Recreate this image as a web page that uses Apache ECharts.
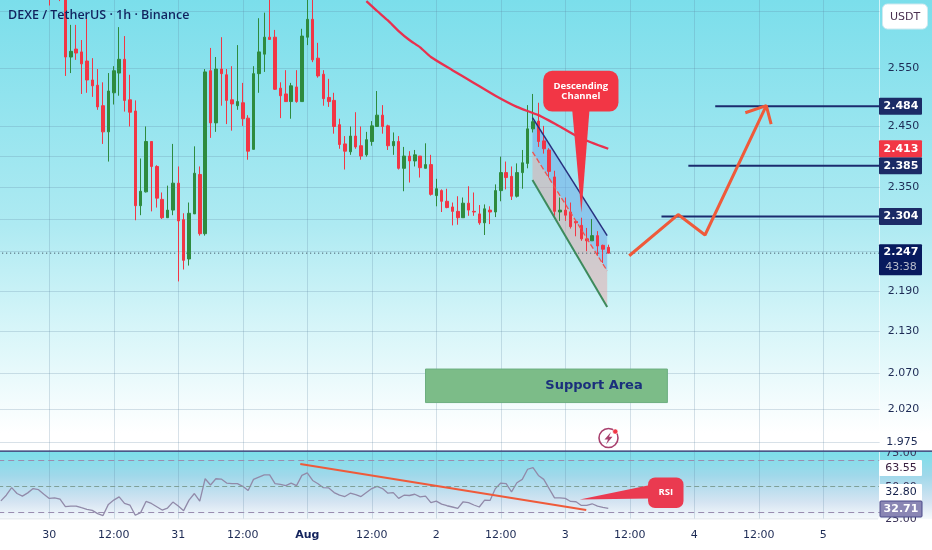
<!DOCTYPE html>
<html><head><meta charset="utf-8">
<style>html,body{margin:0;padding:0;background:#fff}#c{width:932px;height:550px}</style>
<script src="https://cdn.jsdelivr.net/npm/echarts@6/dist/echarts.min.js"></script>
</head><body><div id="c"></div>
<script>
const firstCandleSlot = 9;
const opens = [2.72,2.73,2.70,2.72,2.569,2.583,2.578,2.562,2.529,2.520,2.485,2.441,2.507,2.541,2.565,2.495,2.476,2.321,2.343,2.425,2.384,2.331,2.302,2.314,2.357,2.299,2.238,2.308,2.371,2.277,2.545,2.456,2.548,2.538,2.495,2.485,2.490,2.464,2.412,2.540,2.574,2.604,2.604,2.515,2.505,2.492,2.517,2.492,2.604,2.636,2.567,2.539,2.499,2.494,2.453,2.421,2.408,2.434,2.418,2.403,2.425,2.450,2.469,2.451,2.418,2.425,2.381,2.401,2.393,2.401,2.381,2.387,2.337,2.345,2.328,2.319,2.312,2.302,2.325,2.312,2.308,2.294,2.314,2.311,2.345,2.374,2.368,2.336,2.374,2.389,2.446,2.459,2.426,2.411,2.367,2.311,2.314,2.311,2.296,2.290,2.269,2.266,2.274,2.259,2.256];
const closes = [2.70,2.71,2.68,2.569,2.579,2.576,2.557,2.529,2.519,2.483,2.441,2.510,2.545,2.565,2.494,2.474,2.321,2.344,2.425,2.384,2.333,2.302,2.314,2.357,2.297,2.236,2.309,2.373,2.277,2.543,2.456,2.548,2.540,2.494,2.488,2.492,2.463,2.409,2.540,2.578,2.604,2.600,2.513,2.502,2.492,2.519,2.492,2.606,2.636,2.564,2.536,2.497,2.492,2.450,2.420,2.409,2.434,2.416,2.401,2.428,2.451,2.469,2.450,2.418,2.425,2.381,2.401,2.393,2.403,2.382,2.387,2.339,2.348,2.328,2.318,2.312,2.302,2.325,2.314,2.311,2.294,2.316,2.311,2.345,2.374,2.366,2.336,2.374,2.390,2.446,2.458,2.425,2.413,2.376,2.312,2.314,2.306,2.288,2.294,2.269,2.266,2.274,2.258,2.253,2.247];
const highs = [2.73,2.74,2.71,2.75,2.626,2.626,2.599,2.638,2.567,2.548,2.525,2.541,2.553,2.622,2.606,2.538,2.494,2.397,2.450,2.425,2.386,2.342,2.353,2.421,2.384,2.309,2.326,2.417,2.384,2.548,2.585,2.569,2.604,2.548,2.553,2.590,2.524,2.469,2.553,2.638,2.648,2.70,2.617,2.525,2.546,2.524,2.546,2.619,2.68,2.69,2.594,2.546,2.531,2.507,2.463,2.434,2.450,2.474,2.450,2.441,2.459,2.510,2.486,2.453,2.440,2.434,2.416,2.409,2.411,2.401,2.422,2.403,2.364,2.347,2.348,2.326,2.336,2.334,2.352,2.342,2.322,2.323,2.320,2.355,2.400,2.392,2.384,2.389,2.411,2.486,2.505,2.490,2.451,2.414,2.377,2.334,2.334,2.326,2.296,2.302,2.286,2.300,2.281,2.260,2.260];
const lows = [2.661,2.70,2.669,2.536,2.541,2.564,2.505,2.507,2.500,2.478,2.421,2.392,2.487,2.502,2.475,2.450,2.298,2.306,2.342,2.312,2.318,2.300,2.302,2.306,2.204,2.222,2.228,2.308,2.274,2.274,2.431,2.441,2.485,2.454,2.443,2.478,2.451,2.395,2.412,2.507,2.543,2.600,2.512,2.464,2.492,2.463,2.490,2.492,2.590,2.560,2.533,2.485,2.483,2.438,2.413,2.379,2.403,2.413,2.395,2.400,2.418,2.450,2.438,2.411,2.403,2.379,2.344,2.358,2.384,2.366,2.381,2.337,2.320,2.311,2.317,2.290,2.291,2.302,2.305,2.305,2.291,2.275,2.292,2.303,2.328,2.347,2.330,2.334,2.348,2.381,2.440,2.416,2.405,2.366,2.305,2.297,2.297,2.285,2.273,2.266,2.250,2.266,2.243,2.232,2.247];
const rsi = [35.8,41.2,48.4,42.8,40.3,43.4,47.5,46.5,42.1,38.1,38.7,37.4,30.2,30.8,30.8,29.2,27.7,26.7,23.6,21.7,32.4,36.5,39.6,33.3,31.8,22.0,24.5,35.2,33.3,30.2,27.0,28.9,34.6,30.8,26.4,36.5,42.8,35.5,56.9,50.9,56.9,56.6,52.8,52.2,52.2,49.7,45.6,56.3,58.5,60.7,60.7,52.2,51.6,50.3,52.8,50.3,60.1,62.6,55.3,52.2,48.4,48.1,43.7,41.2,39.9,43.1,41.8,39.9,43.7,47.5,49.7,47.5,43.1,43.7,38.1,41.2,40.9,42.1,39.6,40.3,34.0,35.5,32.7,31.1,29.9,28.6,34.9,34.0,31.8,29.9,36.5,36.2,47.5,52.8,52.2,44.3,53.1,56.3,66.0,67.6,60.1,56.3,47.5,38.7,38.7,38.1,35.2,34.9,31.4,31.4,33.0,30.8,29.6,28.6];
const maSlots = [68,70,72,74,76,78,80,84,88,92,96,100,104,108,113];
const maValues = [2.669,2.651,2.634,2.615,2.599,2.586,2.569,2.546,2.524,2.502,2.483,2.469,2.450,2.430,2.413];
const channelSlots = [98.9,112.8];
const channelUpper = [2.465,2.274];
const channelMiddle = [2.408,2.220];
const channelLower = [2.362,2.166];
const targetLevels = [2.484,2.385,2.304];
const targetStartSlots = [132.9,127.9,122.9];
const lastSlot = 163.4;
const forecastSlots = [116.9,126,131,142.4];
const forecastPrices = [2.243,2.307,2.275,2.485];
const arrowSlots = [138.5,142.4,143.3];
const arrowPrices = [2.473,2.485,2.454];
const supportSlots = [79,124];
const supportPrices = [2.076,2.029];
const calloutSlots = [100.9,114.9,106.3,109.5,108.0];
const calloutPrices = [2.545,2.475,2.310];
const rsiTrendSlots = [55.7,108.9];
const rsiTrendValues = [71.1,27.0];
const rsiLevels = [75,50,25];
const rsiCalloutSlots = [120.4,127.0,107.7];
const rsiCalloutValues = [58.2,28.9,50.6,38.0,37.1];
const tickLabels = ['30','12:00','31','12:00','Aug','12:00','2','12:00','3','12:00','4','12:00','5'];
const priceTicks = [2.55,2.45,2.35,2.19,2.13,2.07,2.02];
const priceGrid = [2.65,2.55,2.45,2.40,2.35,2.30,2.25,2.19,2.13,2.07,2.02,1.975];
const lastPrice = 2.247;
const maLast = 2.413;
const countdown = '43:38';
const rsiAxisTexts = ['75.00','50.00','63.55','32.80','32.71','25.00'];

const slotCount = 164;
const tickEvery = 12;
const categories = [];
for (let i = 0; i < slotCount; i++) categories.push('h' + i);
const isTick = i => i >= firstCandleSlot && (i - firstCandleSlot) % tickEvery === 0;
const candleData = categories.map((c, i) => {
  const k = i - firstCandleSlot;
  return k >= 0 && k < opens.length ? [opens[k], closes[k], lows[k], highs[k]] : ['-','-','-','-'];
});

const FONT = '"DejaVu Sans"';
const NAVY = '#1b2b66', RED = '#f23645';
const vGrid = {show:true, alignWithLabel:true, interval:i=>isTick(i), lineStyle:{color:'rgba(90,130,160,0.24)',width:1}};
const base = {type:'category',data:categories,boundaryGap:true,axisLine:{show:false},axisTick:{show:false,alignWithLabel:true}};
const bg = (y,h,stops,z)=>({type:'rect',z:z,silent:true,shape:{x:0,y:y,width:932,height:h},style:{fill:new echarts.graphic.LinearGradient(0,0,0,1,stops)}});
const txt = (x,y,t,o,z)=>({type:'text',z:z||30,silent:true,x:x,y:y,style:Object.assign({text:t,font:'11px '+FONT,fill:'#1d2b55',textAlign:'center',textVerticalAlign:'middle'},o||{})});
const box = (x,y,w,h,f,o)=>({type:'rect',z:29,silent:true,shape:{x:x,y:y,width:w,height:h,r:1},style:Object.assign({fill:f},o||{})});

const tagSeries = (price, color, label, extra)=>({
  type:'custom',coordinateSystem:'cartesian2d',xAxisIndex:1,yAxisIndex:0,z:20,silent:true,
  data:[[0,price]],
  renderItem:(p,api)=>{
    const y=api.coord([0,api.value(1)])[1];
    const h=extra?31:17, top=extra?y-9:y-8.5;
    const kids=[
      {type:'rect',shape:{x:879,y:top,width:43,height:h,r:1},style:{fill:color}},
      {type:'text',style:{x:901,y:top+8.5,text:label,font:'600 11px '+FONT,fill:'#fff',textAlign:'center',textVerticalAlign:'middle'}}
    ];
    if(extra) kids.push({type:'text',style:{x:901,y:top+23,text:extra,font:'11px '+FONT,fill:'#b7bccb',textAlign:'center',textVerticalAlign:'middle'}});
    return {type:'group',children:kids};
  }
});

const polySeries = (pts, fill, z)=>({
  type:'custom',coordinateSystem:'cartesian2d',xAxisIndex:1,yAxisIndex:0,z:z,silent:true,data:pts,
  renderItem:(p,api)=> p.dataIndex===0 ? {type:'polygon',shape:{points:pts.map(q=>api.coord(q))},style:{fill:fill}} : null
});
const seg = (xs,ys,color,width,z,type)=>({
  type:'line',xAxisIndex:1,yAxisIndex:0,z:z,silent:true,symbol:'none',animation:false,
  data:xs.map((x,i)=>[x,ys[i]]),lineStyle:{color:color,width:width,type:type||'solid'}
});

const option = {
  animation:false,
  grid:[
    {left:-1.8,top:0,width:881.5,height:451,outerBoundsMode:'none'},
    {left:-1.8,top:452,width:881.5,height:66.5,outerBoundsMode:'none'}
  ],
  xAxis:[
    Object.assign({},base,{gridIndex:0,axisLabel:{show:false},splitLine:vGrid}),
    {type:'value',gridIndex:0,min:-0.5,max:163.5,show:false},
    Object.assign({},base,{gridIndex:1,splitLine:vGrid,axisLabel:{
      interval:i=>isTick(i),margin:11,fontFamily:FONT,fontSize:11,color:'#1d2b55',
      formatter:(v,i)=>{const t=tickLabels[(i-firstCandleSlot)/tickEvery];return t==='Aug'?'{b|Aug}':t;},
      rich:{b:{fontFamily:FONT,fontSize:11,fontWeight:'bold',color:'#13235c'}}
    }}),
    {type:'value',gridIndex:1,min:-0.5,max:163.5,show:false}
  ],
  yAxis:[
    {type:'log',logBase:Math.E,gridIndex:0,position:'right',min:1.963,max:2.671,
     axisLine:{show:false},
     axisTick:{show:false,customValues:priceGrid},
     splitLine:{show:true,lineStyle:{color:'rgba(90,130,160,0.24)',width:1}},
     axisLabel:{customValues:priceTicks,margin:8,fontFamily:FONT,fontSize:11,color:'#1d2b55',formatter:v=>(+v).toFixed(3)}},
    {type:'value',gridIndex:1,min:18.9,max:82.5,show:false}
  ],
  graphic:{elements:[
    bg(0,451,[{offset:0,color:'#7bdeeb'},{offset:0.5,color:'#aeeaf2'},{offset:0.7,color:'#d2f4f8'},{offset:0.96,color:'#ffffff'},{offset:1,color:'#ffffff'}],-5),
    bg(452,67,[{offset:0,color:'#7cdfea'},{offset:0.35,color:'#a0d8ea'},{offset:0.75,color:'#d5e4f2'},{offset:1,color:'#f6fafc'}],-5),
    {type:'rect',z:-4,silent:true,shape:{x:879,y:0,width:1,height:519},style:{fill:'rgba(255,255,255,0.65)'}},
    {type:'rect',z:-4,silent:true,shape:{x:0,y:518,width:878,height:1.5},style:{fill:'#e8edf1'}},
    txt(8,15.5,'DEXE / TetherUS \u00b7 1h \u00b7 Binance',{font:'600 12.5px "Open Sans"',fill:'#11235f',textAlign:'left'}),
    {type:'rect',z:29,silent:true,shape:{x:882.5,y:4,width:45,height:25,r:5},style:{fill:'#ffffff',stroke:'#cfe9ef',lineWidth:1}},
    txt(905,17,'USDT',{fill:'#4b3150'}),
    txt(901,453,rsiAxisTexts[0],{fill:'#3a3358'},27),
    txt(901,487,rsiAxisTexts[1],{fill:'#3a3358'},27),
    box(879,460,43,16,'#ffffff'),
    txt(901,468,rsiAxisTexts[2],{fill:'#3a2040'}),
    box(879,484,43,17,'#ffffff'),
    txt(901,492.5,rsiAxisTexts[3],{fill:'#14204a'}),
    txt(901,519.5,rsiAxisTexts[5],{fill:'#3a3358'},27),
    Object.assign(box(880,501,42,16,'#8a86b4',{stroke:'#4a4a8a',lineWidth:1}),{z:31}),
    Object.assign(txt(901,509,rsiAxisTexts[4],{fill:'#ffffff',font:'600 11px '+FONT}),{z:32}),
    {type:'rect',z:28,silent:true,shape:{x:879,y:443,width:53,height:8},style:{fill:'#ffffff'}},
    txt(902,442,'1.975',{fill:'#1d2b55'}),
    {type:'rect',z:33,silent:true,shape:{x:0,y:450.6,width:932,height:1.2},style:{fill:'#0f2060'}},
    {type:'circle',z:30,silent:true,shape:{cx:608.5,cy:438,r:9.5},style:{fill:'none',stroke:'#a8406e',lineWidth:1.6}},
    {type:'polygon',z:30,silent:true,shape:{points:[[611,432],[604.5,439.5],[608,439.5],[606,444.5],[612.5,436.8],[609,436.8]]},style:{fill:'#a8406e'}},
    {type:'circle',z:31,silent:true,shape:{cx:615.3,cy:431.5,r:2.6},style:{fill:'#f23645',stroke:'#fff',lineWidth:0.6}}
  ]},
  series:[
    polySeries([[channelSlots[0],channelUpper[0]],[channelSlots[1],channelUpper[1]],[channelSlots[1],channelMiddle[1]],[channelSlots[0],channelMiddle[0]]],'rgba(110,165,232,0.5)',1),
    polySeries([[channelSlots[0],channelMiddle[0]],[channelSlots[1],channelMiddle[1]],[channelSlots[1],channelLower[1]],[channelSlots[0],channelLower[0]]],'rgba(230,165,165,0.5)',1),
    {type:'candlestick',xAxisIndex:0,yAxisIndex:0,z:3,silent:true,barWidth:3,data:candleData,
     itemStyle:{color:'#2e8b3e',color0:'#f23645',borderColor:'#2e8b3e',borderColor0:'#f23645',borderWidth:1}},
    seg(channelSlots,channelMiddle,'#ef5350',1.3,4,'dashed'),
    seg(channelSlots,channelUpper,'#28307e',1.5,4),
    seg(channelSlots,channelLower,'#3d8a5c',2,4),
    Object.assign(seg(maSlots,maValues,'#e9304e',2.3,5),{smooth:0.2}),
    seg([-0.5,lastSlot],[lastPrice,lastPrice],'#2a3a4a',1,2,[1,3]),
    ...targetLevels.map((p,i)=>seg([targetStartSlots[i],lastSlot],[p,p],'#1b2b6e',2,6)),
    seg(forecastSlots,forecastPrices,'#ef5a3a',3,6),
    seg(arrowSlots,arrowPrices,'#ef5a3a',3,6),
    {type:'custom',coordinateSystem:'cartesian2d',xAxisIndex:1,yAxisIndex:0,z:2,silent:true,
     data:[[supportSlots[0],supportPrices[0],supportSlots[1],supportPrices[1]]],
     renderItem:(p,api)=>{
       const a=api.coord([api.value(0),api.value(1)]),b=api.coord([api.value(2),api.value(3)]);
       return {type:'group',children:[
         {type:'rect',shape:{x:a[0],y:a[1],width:b[0]-a[0],height:b[1]-a[1]},style:{fill:'#7cbc88',stroke:'#6cae80',lineWidth:1}},
         {type:'text',style:{x:594,y:a[1]+17,text:'Support Area',font:'bold 13px '+FONT,fill:'#1a2f7c',textAlign:'center',textVerticalAlign:'middle'}}
       ]};
     }},
    {type:'custom',coordinateSystem:'cartesian2d',xAxisIndex:1,yAxisIndex:0,z:8,silent:true,
     data:[[calloutSlots[0],calloutPrices[0]]],
     renderItem:(p,api)=>{
       const a=api.coord([calloutSlots[0],calloutPrices[0]]),b=api.coord([calloutSlots[1],calloutPrices[1]]);
       const l=api.coord([calloutSlots[2],calloutPrices[1]]),r=api.coord([calloutSlots[3],calloutPrices[1]]),t=api.coord([calloutSlots[4],calloutPrices[2]]);
       return {type:'group',children:[
         {type:'rect',shape:{x:a[0],y:a[1],width:b[0]-a[0],height:b[1]-a[1],r:9},style:{fill:RED}},
         {type:'polygon',shape:{points:[[l[0],l[1]-1],[r[0],r[1]-1],t]},style:{fill:RED}},
         {type:'text',style:{x:(a[0]+b[0])/2,y:(a[1]+b[1])/2,text:'Descending\nChannel',font:'bold 9.5px "Open Sans"',fill:'#fff',textAlign:'center',textVerticalAlign:'middle',lineHeight:10.5}}
       ]};
     }},
    ...targetLevels.map(p=>tagSeries(p,NAVY,p.toFixed(3))),
    tagSeries(maLast,RED,maLast.toFixed(3)),
    tagSeries(lastPrice,'#071a5e',lastPrice.toFixed(3),countdown),
    {type:'line',xAxisIndex:2,yAxisIndex:1,z:3,silent:true,symbol:'none',data:rsi,lineStyle:{color:'#918aa9',width:1.3},
     markLine:{silent:true,symbol:'none',label:{show:false},data:rsiLevels.map(v=>({yAxis:v,lineStyle:v===50?{color:'#7fa098',type:[5,3],width:1}:{color:'#9a8db0',type:[6,4],width:1.2}}))}},
    {type:'line',xAxisIndex:3,yAxisIndex:1,z:5,silent:true,symbol:'none',data:rsiTrendSlots.map((x,i)=>[x,rsiTrendValues[i]]),lineStyle:{color:'#ef5a3a',width:2}},
    {type:'custom',coordinateSystem:'cartesian2d',xAxisIndex:3,yAxisIndex:1,z:8,silent:true,
     data:[[rsiCalloutSlots[0],rsiCalloutValues[0]]],
     renderItem:(p,api)=>{
       const a=api.coord([rsiCalloutSlots[0],rsiCalloutValues[0]]),b=api.coord([rsiCalloutSlots[1],rsiCalloutValues[1]]);
       const u=api.coord([rsiCalloutSlots[0],rsiCalloutValues[2]]),d=api.coord([rsiCalloutSlots[0],rsiCalloutValues[3]]),t=api.coord([rsiCalloutSlots[2],rsiCalloutValues[4]]);
       return {type:'group',children:[
         {type:'rect',shape:{x:a[0],y:a[1],width:b[0]-a[0],height:b[1]-a[1],r:7},style:{fill:'#ea3a50'}},
         {type:'polygon',shape:{points:[[u[0]+1,u[1]],[d[0]+1,d[1]],t]},style:{fill:'#ea3a50'}},
         {type:'text',style:{x:(a[0]+b[0])/2,y:(a[1]+b[1])/2,text:'RSI',font:'bold 9.5px "Open Sans"',fill:'#fff',textAlign:'center',textVerticalAlign:'middle'}}
       ]};
     }}
  ]
};
echarts.init(document.getElementById('c'),null,{renderer:'canvas'}).setOption(option);
</script></body></html>
